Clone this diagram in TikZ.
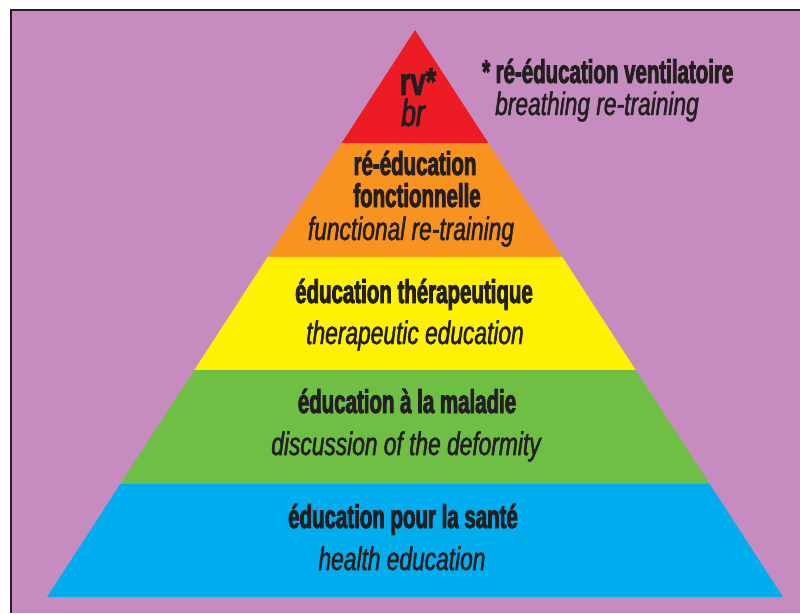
\documentclass[tikz,border=0pt]{standalone}
\usepackage{fontspec}
\newfontfamily\stagefont{Liberation Sans}[FakeStretch=0.62, FakeBold=2.5]
\newfontfamily\glossfont{Liberation Sans}[FakeStretch=0.70, FakeBold=1.5]
\newfontfamily\tipfont{Liberation Sans}[FakeStretch=0.70, FakeBold=2]
\usetikzlibrary{calc}

\definecolor{pyrback}{HTML}{C78CBF}
\definecolor{pyrred}{HTML}{ED1C24}
\definecolor{pyrorange}{HTML}{F7931E}
\definecolor{pyryellow}{HTML}{FFF200}
\definecolor{pyrgreen}{HTML}{70BF45}
\definecolor{pyrblue}{HTML}{00AEEF}
\definecolor{ink}{HTML}{231F20}

\tikzset{
  stagetext/.style={anchor=base, inner sep=0pt, text=ink,
    font=\stagefont\bfseries\fontsize{33}{35}\selectfont},
  glosstext/.style={anchor=base, inner sep=0pt, text=ink,
    font=\glossfont\itshape\fontsize{32.5}{34}\selectfont},
}

\begin{document}
\begin{tikzpicture}[x=1pt, y=-1pt]
\useasboundingbox (0,0) rectangle (800,613);
% Background panel, edged on the left and top
\fill[pyrback] (11,10) rectangle (800,613);
\draw[ink, line width=1.5pt] (11,613) -- (11,10) -- (800,10);
% Pyramid corners
\coordinate (apex) at (415,30);
\coordinate (baseleft) at (47,597);
\coordinate (baseright) at (783,597);
% Five bands of equal height
\foreach \col [count=\i] in {pyrred, pyrorange, pyryellow, pyrgreen, pyrblue} {
  \fill[\col] ($(apex)!{(\i-1)/5}!(baseleft)$) -- ($(apex)!{\i/5}!(baseleft)$)
    -- ($(apex)!{\i/5}!(baseright)$) -- ($(apex)!{(\i-1)/5}!(baseright)$) -- cycle;
}
% Top band
\node[stagetext, font=\tipfont\bfseries\fontsize{39}{41}\selectfont] (rv) at (418,95) {rv*};
\node[glosstext, font=\tipfont\itshape\fontsize{38}{40}\selectfont] (br) at (413,126) {br};
% Footnote for the top band
\node[stagetext, anchor=base west] (rvnote) at (482,83) {*\,ré-éducation ventilatoire};
\node[glosstext, anchor=base west] (brnote) at (495,115) {breathing re-training};
% Second band
\node[stagetext] (fonc1) at (415,175) {ré-éducation};
\node[stagetext] (fonc2) at (417,207) {fonctionnelle};
\node[glosstext] (func) at (411,240) {functional re-training};
% Third band
\node[stagetext] (ther) at (414,303) {éducation thérapeutique};
\node[glosstext] (thereng) at (415,344) {therapeutic education};
% Fourth band
\node[stagetext] (mal) at (407,413) {éducation à la maladie};
\node[glosstext] (maleng) at (406,455) {discussion of the deformity};
% Bottom band
\node[stagetext] (sante) at (403,528) {éducation pour la santé};
\node[glosstext] (santeeng) at (402,570) {health education};
\end{tikzpicture}
\end{document}
